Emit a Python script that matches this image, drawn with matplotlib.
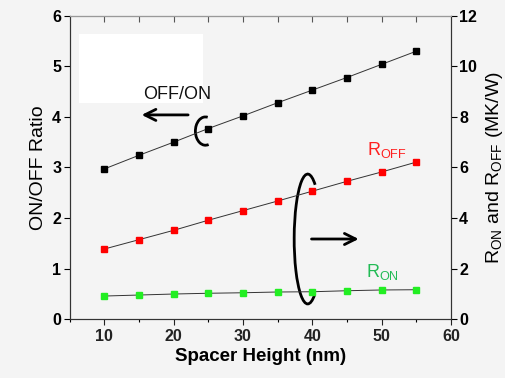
import matplotlib
matplotlib.use("Agg")
import matplotlib.pyplot as plt
from matplotlib.patches import Arc, Rectangle

plt.rcParams['font.family'] = ['Liberation Sans', 'DejaVu Sans']
plt.rcParams['mathtext.fontset'] = 'custom'
plt.rcParams['mathtext.rm'] = 'Liberation Sans'
plt.rcParams['mathtext.it'] = 'Liberation Sans'

spacer = [10, 15, 20, 25, 30, 35, 40, 45, 50, 55]
on_off_ratio = [2.97, 3.24, 3.50, 3.77, 4.02, 4.28, 4.53, 4.78, 5.04, 5.30]
r_off = [2.77, 3.14, 3.51, 3.91, 4.29, 4.67, 5.06, 5.45, 5.82, 6.21]
r_on = [0.91, 0.95, 0.99, 1.02, 1.04, 1.07, 1.08, 1.12, 1.15, 1.16]

bg = '#f4f4f4'
fig = plt.figure(figsize=(5.06, 3.78), dpi=100, facecolor=bg)
ax = fig.add_axes([0.1375, 0.156, 0.7535, 0.802])
ax.set_facecolor(bg)
ax2 = ax.twinx()

ax.add_patch(Rectangle((0.025, 0.713), 0.325, 0.227, transform=ax.transAxes,
                       facecolor='white', edgecolor='none', zorder=0))

ax.plot(spacer, on_off_ratio, '-', color='#333333', lw=0.7,
        marker='s', ms=4.8, mfc='black', mec='black', zorder=3)
ax2.plot(spacer, r_off, '-', color='#333333', lw=0.7,
         marker='s', ms=4.8, mfc='#ff0000', mec='#ff0000', zorder=3)
ax2.plot(spacer, r_on, '-', color='#333333', lw=0.7,
         marker='s', ms=4.8, mfc='#22ee22', mec='#22ee22', zorder=3)

ax.set_xlim(5, 60)
ax.set_ylim(0, 6)
ax2.set_ylim(0, 12)

ax.set_xticks([10, 20, 30, 40, 50, 60])
ax.set_xticks([5, 15, 25, 35, 45, 55], minor=True)
ax.set_yticks(range(0, 7))
ax2.set_yticks(range(0, 13, 2))

tfont = dict(fontsize=11.5, fontweight='bold')
ax.set_xticklabels([str(v) for v in [10, 20, 30, 40, 50, 60]], **tfont)
ax.set_yticklabels([str(v) for v in range(0, 7)], **tfont)
ax2.set_yticklabels([str(v) for v in range(0, 13, 2)], **tfont)

ax.tick_params(axis='x', which='major', direction='out', length=4, width=0.8,
               top=False, pad=3, colors='#222222')
ax.tick_params(axis='x', which='minor', direction='out', length=2.5, width=0.8, top=False)
ax.tick_params(axis='y', direction='out', length=4, width=0.8, pad=2)
ax2.tick_params(axis='y', direction='out', length=4, width=0.8, pad=2)

for a in (ax, ax2):
    for s in a.spines.values():
        s.set_color('#333333')
        s.set_linewidth(0.8)
ax.spines['top'].set_color('#999999')
ax2.spines['top'].set_color('#999999')

# top inward ticks every 5
secx = ax.secondary_xaxis('top')
secx.set_xticks([10, 15, 20, 25, 30, 35, 40, 45, 50, 55])
secx.set_xticklabels([])
secx.tick_params(direction='in', length=4, width=0.8, colors='#555555')
secx.spines['top'].set_color('#999999')

ax.set_xlabel('Spacer Height (nm)', fontsize=13.5, fontweight='bold', labelpad=3)
ax.set_ylabel('ON/OFF Ratio', fontsize=14, labelpad=4)
ax2.set_ylabel(r'R$_{\mathrm{ON}}$ and R$_{\mathrm{OFF}}$ (MK/W)', fontsize=14, labelpad=5)

# annotations
ax.text(15.6, 4.44, 'OFF/ON', fontsize=13, ha='left', va='center', color='#111111')
ax.annotate('', xy=(15.0, 4.04), xytext=(22.5, 4.04),
            arrowprops=dict(arrowstyle='->', lw=2.0, color='black', mutation_scale=20))
ax.add_patch(Arc((24.6, 3.72), 2.9, 0.56, theta1=40, theta2=330, lw=2.0, color='black'))

ax.add_patch(Arc((39.35, 1.584), 3.9, 2.57, theta1=45, theta2=312, lw=2.0, color='black'))
ax.annotate('', xy=(47.1, 1.584), xytext=(39.5, 1.584),
            arrowprops=dict(arrowstyle='->', lw=2.0, color='black', mutation_scale=20))

ax.text(47.9, 3.35, r'R$_{\mathrm{OFF}}$', fontsize=13, color='#ff2020', ha='left', va='center')
ax.text(47.7, 0.93, r'R$_{\mathrm{ON}}$', fontsize=13, color='#22bb55', ha='left', va='center')

fig.savefig('out.png', dpi=100, facecolor=bg)
